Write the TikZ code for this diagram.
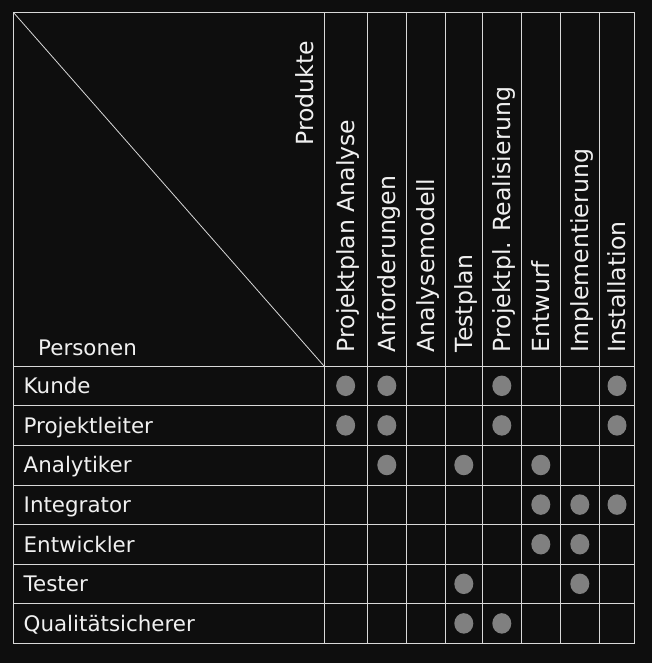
\documentclass[tikz,border=0pt]{standalone}
\usepackage{fontspec}
\setmainfont{DejaVu Sans}
\usetikzlibrary{shapes.geometric}
\definecolor{bg}{HTML}{0E0E0E}
\definecolor{gridc}{HTML}{D8D8D8}
\definecolor{dotc}{HTML}{808080}
\definecolor{txt}{HTML}{F0F0F0}
\begin{document}
\begin{tikzpicture}[x=1pt,y=-1pt,
  gridline/.style={draw=gridc,line width=1pt},
  diagline/.style={draw=gridc,line width=0.8pt},
  rowlabel/.style={anchor=base west,inner sep=0pt,text=txt,font=\fontsize{21.4}{24}\selectfont},
  collabel/.style={anchor=base west,inner sep=0pt,text=txt,rotate=90,font=\fontsize{23.6}{26}\selectfont},
  dotmark/.style={ellipse,fill=dotc,minimum width=19pt,minimum height=20.5pt,inner sep=0pt}]
\fill[bg] (0,0) rectangle (652,663);
\useasboundingbox (0,0) rectangle (652,663);
% corners
\coordinate (tl) at (13.5,12.5);
\coordinate (br) at (634.7,643.3);
\coordinate (hc) at (324,366);
% column boundaries
\def\colx{{324,367.3,406.3,445.3,482.3,521.3,560.3,599.3,634.7}}
% outer frame
\draw[gridline] (tl) rectangle (br);
% horizontal lines
\foreach \y in {366,405.7,445.3,485,524.3,564,603.7}
  \draw[gridline] (13.5,\y) -- (634.7,\y);
% vertical lines
\foreach \x in {324,367.3,406.3,445.3,482.3,521.3,560.3,599.3}
  \draw[gridline] (\x,12.5) -- (\x,643.3);
% diagonal
\draw[diagline] (tl) -- (hc);
% header labels
\node[rowlabel] (personen) at (38,355) {Personen};
\node[collabel] (produkte) at (313.5,146) {Produkte};
% column labels
\foreach \i/\t in {1/Projektplan Analyse,2/Anforderungen,3/Analysemodell,4/Testplan,5/Projektpl. Realisierung,6/Entwurf,7/Implementierung,8/Installation}{
  \pgfmathsetmacro{\xa}{\colx[\i-1]}
  \pgfmathsetmacro{\xb}{\colx[\i]}
  \node[collabel] (c\i) at ({(\xa+\xb)/2+8.6},352.5) {\t};
}
% row labels
\foreach \j/\t in {1/Kunde,2/Projektleiter,3/Analytiker,4/Integrator,5/Entwickler,6/Tester,7/Qualitätsicherer}{
  \node[rowlabel] (r\j) at (23.5,{366+39.6*(\j-0.5)+7.8}) {\t};
}
% dots
\foreach \j/\cols in {1/{1,2,5,8},2/{1,2,5,8},3/{2,4,6},4/{6,7,8},5/{6,7},6/{4,7},7/{4,5}}{
  \foreach \i in \cols {
    \pgfmathsetmacro{\xa}{\colx[\i-1]}
    \pgfmathsetmacro{\xb}{\colx[\i]}
    \node[dotmark] (d\j-\i) at ({(\xa+\xb)/2},{366+39.6*(\j-0.5)}) {};
  }
}
\end{tikzpicture}
\end{document}
